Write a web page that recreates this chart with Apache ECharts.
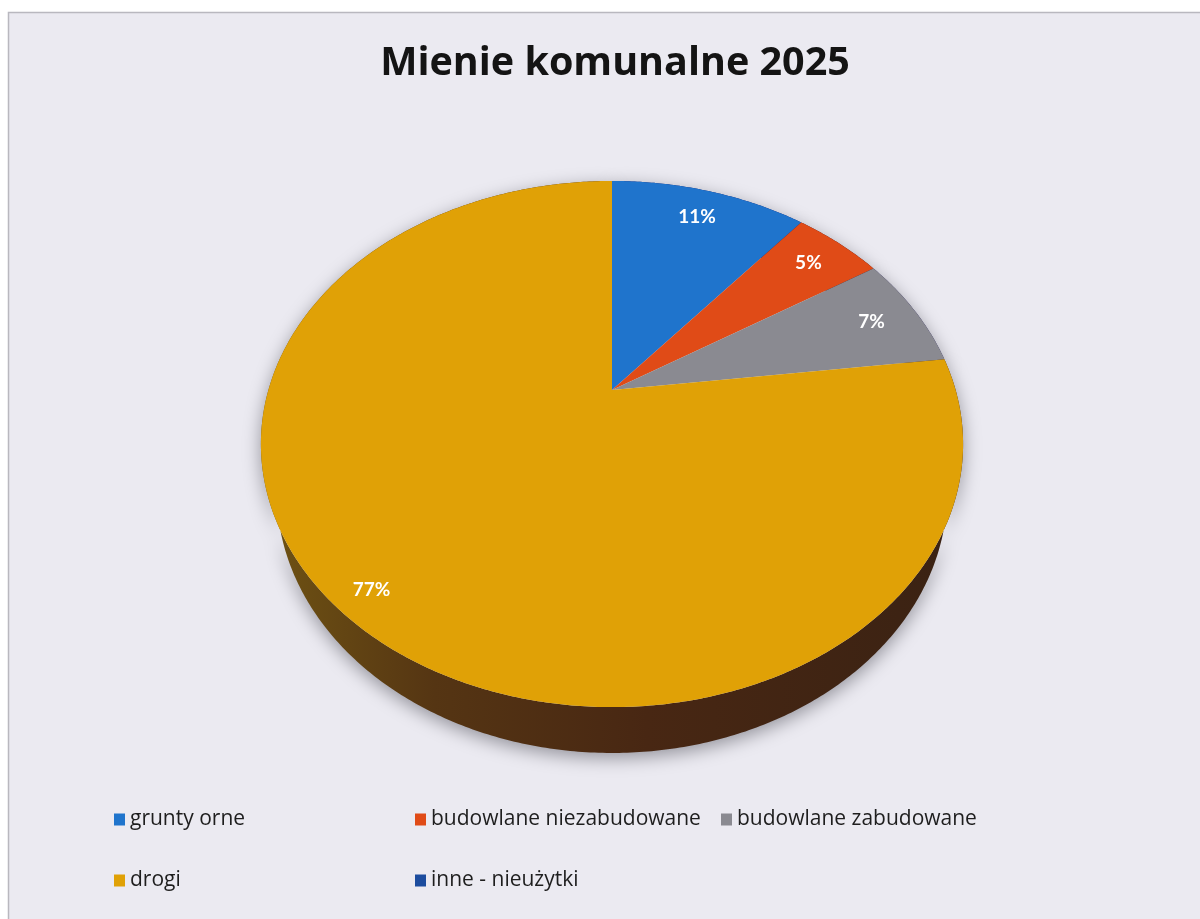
<!DOCTYPE html>
<html>
<head>
<meta charset="utf-8">
<title>Mienie komunalne 2025</title>
<script src="https://cdn.jsdelivr.net/npm/echarts@6/dist/echarts.min.js"></script>
<style>
  html, body { margin: 0; padding: 0; background: #ffffff; }
  #chart { width: 1200px; height: 919px; }
</style>
</head>
<body>
<div id="chart"></div>
<script>
// Land categories and their percentage shares
const categories = ['grunty orne', 'budowlane niezabudowane', 'budowlane zabudowane', 'drogi', 'inne - nieużytki'];
const shares = [11, 5, 7, 77, 0];
const sliceColors = ['#1f74cc', '#e04b17', '#8a8a91', '#e0a106', '#1c4c9e'];

const total = shares.reduce((a, b) => a + b, 0);

// Tilted-disc projection used for the 3D pie
const view = { cx: 612, cy: 390, xScale: 0.976, tilt: 45.7 * Math.PI / 180, dist: 3.40, focal: 1197, depth: 0.215 };

function project(theta, r, z) {
  const x = r * Math.sin(theta), y = r * Math.cos(theta);
  const s = Math.sin(view.tilt), c = Math.cos(view.tilt);
  const u = y * s + z * c;
  const d = y * c - z * s;
  const k = view.focal / (view.dist + d);
  return [view.cx + x * k * view.xScale, view.cy - u * k];
}

function arcPoints(a0, a1, r, z) {
  const n = Math.max(2, Math.ceil((a1 - a0) / 0.01));
  const pts = [];
  for (let i = 0; i < n + 1; i++) pts.push(project(a0 + (a1 - a0) * i / n, r, z));
  return pts;
}

// Shaded wall colour: the slice colour darkened per channel
function shade(color, fr, fg, fb) {
  const [r, g, b] = echarts.color.parse(color);
  return 'rgb(' + Math.round(r * fr) + ',' + Math.round(g * fg) + ',' + Math.round(b * fb + 16) + ')';
}

function sideFill(color) {
  return new echarts.graphic.LinearGradient(258, 0, 965, 0, [
    { offset: 0, color: shade(color, 0.50, 0.52, 0.5) },
    { offset: 0.25, color: shade(color, 0.38, 0.33, 0.5) },
    { offset: 0.55, color: shade(color, 0.32, 0.24, 0.5) },
    { offset: 1, color: shade(color, 0.26, 0.21, 0.5) }
  ], true);
}

function makeRenderer(index) {
  return function (params, api) {
    const value = api.value(0);
    if (!value) return null;
    let before = 0;
    for (let i = 0; i < index; i++) before += shares[i];
    const a0 = before / total * Math.PI * 2;
    const a1 = (before + value) / total * Math.PI * 2;
    const color = sliceColors[index];

    const rimTop = arcPoints(a0, a1, 1, 0);
    const rimBottom = arcPoints(a0, a1, 1, -view.depth).reverse();
    const center = project(0, 0, 0);

    const mid = (a0 + a1) / 2;
    const labelR = value > 50 ? 0.91 : 0.85;
    const lp = project(mid, labelR, 0);

    return {
      type: 'group',
      children: [
        {
          type: 'polygon',
          z2: 1,
          shape: { points: rimTop.concat(rimBottom) },
          style: {
            fill: sideFill(color),
            shadowBlur: 18,
            shadowColor: 'rgba(40,40,50,0.45)',
            shadowOffsetY: 5
          }
        },
        {
          type: 'polygon',
          z2: 10,
          shape: { points: [center].concat(rimTop) },
          style: { fill: color }
        },
        {
          type: 'text',
          z2: 20,
          x: lp[0],
          y: lp[1],
          style: {
            text: Math.round(value / total * 100) + '%',
            fill: '#ffffff',
            fontSize: 19,
            fontWeight: 'bold',
            fontFamily: 'Lato',
            align: 'center',
            verticalAlign: 'middle'
          }
        }
      ]
    };
  };
}

const series = categories.map((name, i) => ({
  type: 'custom',
  name: name,
  coordinateSystem: 'none',
  itemStyle: { color: sliceColors[i] },
  renderItem: makeRenderer(i),
  data: [shares[i]],
  silent: true
}));

const legendText = { fontSize: 21, fontFamily: 'Open Sans', color: '#1e1e1e', lineHeight: 20 };
function legendBlock(left, names) {
  return {
    orient: 'vertical', left: left, top: 804,
    icon: 'rect', itemWidth: 11, itemHeight: 12, itemGap: 40,
    selectedMode: false,
    textStyle: legendText,
    data: names
  };
}

const chart = echarts.init(document.getElementById('chart'), null, { renderer: 'canvas' });
chart.setOption({
  backgroundColor: '#ffffff',
  animation: false,
  graphic: [{
    type: 'rect', z: -10, silent: true,
    shape: { x: 8.5, y: 12.5, width: 1210, height: 930 },
    style: { fill: '#ebeaf1', stroke: '#b9b8bf', lineWidth: 1.5 }
  }],
  title: {
    text: 'Mienie komunalne 2025',
    left: 610, top: 39, textAlign: 'center',
    textStyle: { fontSize: 39.5, fontWeight: 'bold', fontFamily: 'Open Sans', color: '#141414' }
  },
  legend: [
    legendBlock(109, [categories[0], categories[3]]),
    legendBlock(410, [categories[1], categories[4]]),
    legendBlock(716, [categories[2]])
  ],
  series: series
});
</script>
</body>
</html>
